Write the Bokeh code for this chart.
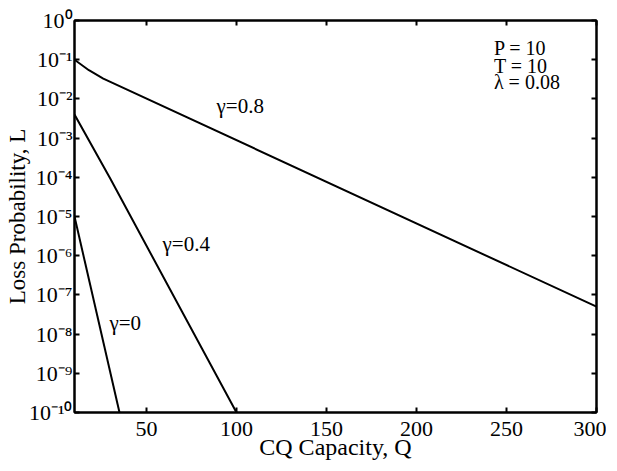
from bokeh.plotting import figure
from bokeh.models import LinearAxis, LogAxis, FixedTicker, Label, Range1d
from bokeh.embed import file_html
from bokeh.resources import INLINE

# ---- data ----
q_g0 = [10, 35]
L_g0 = [1e-5, 1e-10]

q_g4 = [10, 30, 100]
L_g4 = [4e-3, 9e-5, 1e-10]

q_g8 = [10, 18, 26, 300]
L_g8 = [1e-1, 5.4e-2, 3.3e-2, 5e-8]

x_ticks = [50, 100, 150, 200, 250, 300]
y_tick_exponents = [0, -1, -2, -3, -4, -5, -6, -7, -8, -9, -10]
y_tick_labels = ["10⁰", "10⁻¹", "10⁻²", "10⁻³", "10⁻⁴", "10⁻⁵",
                 "10⁻⁶", "10⁻⁷", "10⁻⁸", "10⁻⁹", "10⁻¹⁰"]
curve_labels = ["γ=0", "γ=0.4", "γ=0.8"]
param_lines = ["P = 10", "T = 10", "λ = 0.08"]
x_title = "CQ Capacity, Q"
y_title = "Loss Probability, L"

FONT = "Liberation Serif"

p = figure(output_backend="svg", toolbar_location=None,
           y_axis_type="log",
           x_range=Range1d(10, 300), y_range=Range1d(1e-10, 1),
           frame_width=522, frame_height=392,
           min_border_left=74, min_border_right=10,
           min_border_top=20, min_border_bottom=0,
           x_axis_label=x_title, y_axis_label=y_title)
p.background_fill_color = "white"
p.border_fill_color = "white"
p.outline_line_color = "black"
p.outline_line_width = 2
p.xgrid.visible = False
p.ygrid.visible = False

y_tick_vals = [10.0 ** e for e in y_tick_exponents]
overrides = {v: lab for v, lab in zip(y_tick_vals, y_tick_labels)}

for ax in p.xaxis:
    ax.ticker = FixedTicker(ticks=x_ticks)
for ax in p.yaxis:
    ax.ticker = FixedTicker(ticks=y_tick_vals)
    ax.major_label_overrides = overrides

def style(ax, labels=True):
    ax.axis_line_width = 2
    ax.axis_line_color = "black"
    ax.major_tick_in = 5
    ax.major_tick_out = 0
    ax.major_tick_line_width = 2
    ax.minor_tick_line_color = None
    ax.major_label_text_font = FONT
    ax.major_label_text_font_size = "22px"
    ax.major_label_text_color = "black"
    ax.axis_label_text_font = FONT
    ax.axis_label_text_font_style = "normal"
    ax.axis_label_text_font_size = "24px"
    ax.axis_label_text_color = "black"
    if not labels:
        ax.major_label_text_font_size = "0px"

for ax in p.xaxis:
    style(ax)
    ax.major_label_standoff = 9
    ax.axis_label_standoff = -5
for ax in p.yaxis:
    style(ax)
    ax.axis_label_text_font_size = "23px"
    ax.major_label_standoff = 2
    ax.axis_label_standoff = -4

right = LogAxis(ticker=FixedTicker(ticks=y_tick_vals))
style(right, labels=False)
right.major_label_standoff = 0
p.add_layout(right, "right")
top = LinearAxis(ticker=FixedTicker(ticks=x_ticks))
style(top, labels=False)
top.major_label_standoff = 0
p.add_layout(top, "above")
right.major_label_overrides = {v: "" for v in y_tick_vals}
top.major_label_overrides = {v: "" for v in x_ticks}

for q, L in [(q_g0, L_g0), (q_g4, L_g4), (q_g8, L_g8)]:
    p.line(q, L, line_color="black", line_width=2)

label_pos = [(29.4, 10 ** -7.72), (58.9, 10 ** -5.69), (88.9, 10 ** -2.19)]
for txt, (x, y) in zip(curve_labels, label_pos):
    p.add_layout(Label(x=x, y=y, text=txt, text_font=FONT, text_font_size="21px",
                       text_baseline="middle", text_align="left", text_color="black"))

param_y = [10 ** -0.71, 10 ** -1.15, 10 ** -1.58]
for txt, y in zip(param_lines, param_y):
    p.add_layout(Label(x=243, y=y, text=txt, text_font=FONT, text_font_size="20px",
                       text_baseline="middle", text_align="left", text_color="black"))

open("out.html", "w").write(file_html(p, INLINE))
